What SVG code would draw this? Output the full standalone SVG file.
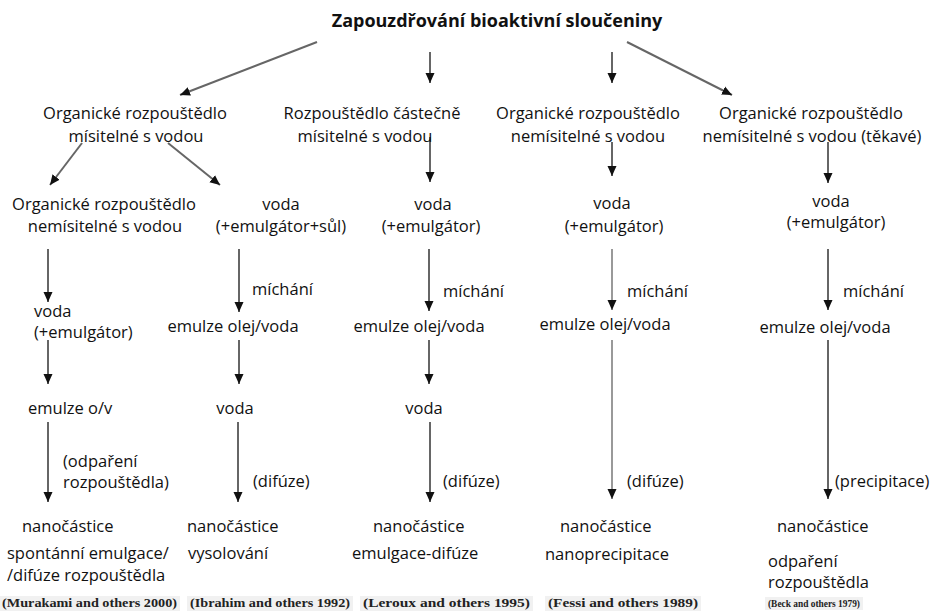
<svg xmlns="http://www.w3.org/2000/svg" width="935" height="612" viewBox="0 0 935 612">
<defs>
<marker id="ah" markerUnits="userSpaceOnUse" markerWidth="10" markerHeight="10" refX="10" refY="5" orient="auto">
<path d="M0,0.5 L10,5 L0,9.5 z" fill="#111"/>
</marker>
<style>
text{font-family:"Open Sans","Noto Sans","Liberation Sans",sans-serif;font-size:16.5px;fill:#111}
.t{font-weight:bold;font-size:18px}
.m{text-anchor:middle}
.c{font-family:"Liberation Serif","Times New Roman",serif;font-weight:bold;font-size:13px;fill:#222}
.cb{fill:#f1f1f1}
.a{stroke:#666;stroke-width:2;fill:none;marker-end:url(#ah)}
.al{stroke:#999}
</style>
</defs>
<rect width="935" height="612" fill="#fff"/>
<g id="connectors">
<line class="a" x1="317" y1="42" x2="180" y2="95"/>
<line class="a" x1="430" y1="52" x2="430" y2="83"/>
<line class="a" x1="612" y1="52" x2="612" y2="83"/>
<line class="a" x1="627" y1="42" x2="732" y2="95"/>
<line class="a" x1="82" y1="143" x2="50" y2="185"/>
<line class="a" x1="168" y1="143" x2="220" y2="185"/>
<line class="a" x1="430" y1="137" x2="430" y2="182"/>
<line class="a" x1="612" y1="142" x2="612" y2="176"/>
<line class="a" x1="828" y1="142" x2="828" y2="183"/>
<line class="a" x1="48" y1="249" x2="48" y2="302"/>
<line class="a" x1="239" y1="249" x2="239" y2="312"/>
<line class="a" x1="429" y1="249" x2="429" y2="311"/>
<line class="a al" x1="612" y1="249" x2="612" y2="310"/>
<line class="a" x1="828" y1="249" x2="828" y2="310"/>
<line class="a" x1="48" y1="340" x2="48" y2="384"/>
<line class="a" x1="239" y1="340" x2="239" y2="384"/>
<line class="a" x1="429" y1="340" x2="429" y2="384"/>
<line class="a" x1="48" y1="422" x2="48" y2="502"/>
<line class="a" x1="238" y1="422" x2="238" y2="502"/>
<line class="a" x1="430" y1="422" x2="430" y2="502"/>
<line class="a al" x1="612" y1="340" x2="612" y2="499"/>
<line class="a" x1="828" y1="340" x2="828" y2="499"/>
</g>
<g id="title"><text class="t m" x="497" y="27">Zapouzdřování bioaktivní sloučeniny</text></g>
<g id="h1"><text class="m" x="135" y="119">Organické rozpouštědlo</text><text class="m" x="136" y="142">mísitelné s vodou</text></g>
<g id="h2"><text class="m" x="372" y="119">Rozpouštědlo částečně</text><text class="m" x="365" y="142">mísitelné s vodou</text></g>
<g id="h3"><text class="m" x="588" y="119">Organické rozpouštědlo</text><text class="m" x="588" y="142">nemísitelné s vodou</text></g>
<g id="h4"><text class="m" x="811" y="119">Organické rozpouštědlo</text><text class="m" x="812" y="142">nemísitelné s vodou (těkavé)</text></g>
<g id="r2a"><text class="m" x="104" y="210">Organické rozpouštědlo</text><text class="m" x="105" y="232">nemísitelné s vodou</text></g>
<g id="r2b"><text class="m" x="281" y="210">voda</text><text class="m" x="281" y="232">(+emulgátor+sůl)</text></g>
<g id="r2c"><text class="m" x="433" y="210">voda</text><text class="m" x="431" y="232">(+emulgátor)</text></g>
<g id="r2d"><text class="m" x="612" y="209">voda</text><text class="m" x="614" y="232">(+emulgátor)</text></g>
<g id="r2e"><text class="m" x="831" y="207">voda</text><text class="m" x="836" y="228">(+emulgátor)</text></g>
<g id="labels1">
<text x="252" y="295">míchání</text>
<text x="443" y="297">míchání</text>
<text x="627" y="297">míchání</text>
<text x="843" y="297">míchání</text>
</g>
<g id="r3a"><text x="34" y="317">voda</text><text x="34" y="338">(+emulgátor)</text></g>
<g id="r3b"><text class="m" x="233" y="332">emulze olej/voda</text></g>
<g id="r3c"><text class="m" x="419" y="332">emulze olej/voda</text></g>
<g id="r3d"><text class="m" x="605" y="330">emulze olej/voda</text></g>
<g id="r3e"><text class="m" x="825" y="333">emulze olej/voda</text></g>
<g id="r4a"><text x="28" y="414">emulze o/v</text></g>
<g id="r4b"><text class="m" x="235" y="414">voda</text></g>
<g id="r4c"><text class="m" x="424" y="414">voda</text></g>
<g id="labels2">
<text x="63" y="467">(odpaření</text><text x="63" y="488">rozpouštědla)</text>
<text x="253" y="487">(difúze)</text>
<text x="443" y="487">(difúze)</text>
<text x="627" y="487">(difúze)</text>
<text x="835" y="487">(precipitace)</text>
</g>
<g id="n1"><text x="22" y="532">nanočástice</text><text x="7" y="559">spontánní emulgace/</text><text x="7" y="581">/difúze rozpouštědla</text></g>
<g id="n2"><text x="187" y="532">nanočástice</text><text x="188" y="559">vysolování</text></g>
<g id="n3"><text x="373" y="532">nanočástice</text><text x="352" y="559">emulgace-difúze</text></g>
<g id="n4"><text x="560" y="532">nanočástice</text><text x="545" y="560">nanoprecipitace</text></g>
<g id="n5"><text x="777" y="532">nanočástice</text><text x="768" y="567">odpaření</text><text x="768" y="588">rozpouštědla</text></g>
<g id="citations">
<rect class="cb" x="0" y="596" width="180" height="15"/>
<rect class="cb" x="187" y="596" width="166" height="15"/>
<rect class="cb" x="360" y="596" width="173" height="15"/>
<rect class="cb" x="545" y="596" width="156" height="15"/>
<rect class="cb" x="765" y="597" width="98" height="13"/>
<text class="c" x="2" y="607" textLength="175" lengthAdjust="spacingAndGlyphs">(Murakami and others 2000)</text>
<text class="c" x="190" y="607" textLength="160" lengthAdjust="spacingAndGlyphs">(Ibrahim and others 1992)</text>
<text class="c" x="363" y="607" textLength="167" lengthAdjust="spacingAndGlyphs">(Leroux and others 1995)</text>
<text class="c" x="548" y="607" textLength="150" lengthAdjust="spacingAndGlyphs">(Fessi and others 1989)</text>
<text class="c" x="768" y="607" style="font-size:10px" textLength="92" lengthAdjust="spacingAndGlyphs">(Beck and others 1979)</text>
</g>
</svg>
